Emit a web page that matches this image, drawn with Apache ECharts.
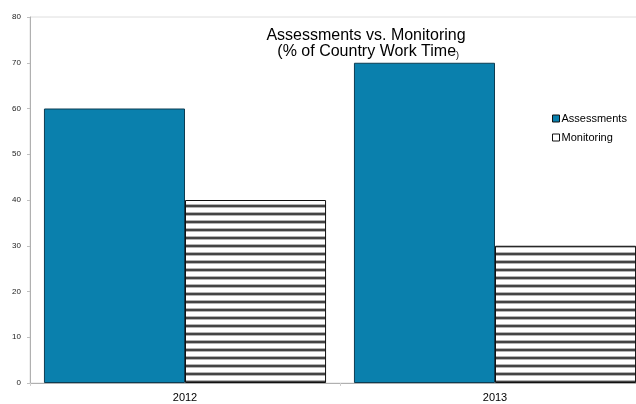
<!DOCTYPE html>
<html>
<head>
<meta charset="utf-8">
<script src="https://cdn.jsdelivr.net/npm/echarts@6/dist/echarts.min.js"></script>
<style>
  html, body { margin: 0; padding: 0; background: #fff; overflow: hidden; }
  /* the plot runs past the right edge in the original, so the canvas is a bit wider than the window */
  #chart { width: 650px; height: 404px; }
</style>
</head>
<body>
<div id="chart"></div>
<script>
// data
const years = ['2012', '2013']
const assessments = [60, 70]
const monitoring = [40, 30]
const yTicks = [0, 10, 20, 30, 40, 50, 60, 70, 80]

// horizontal stripes for the monitoring bars
function stripePattern() {
  const c = document.createElement('canvas')
  c.width = 8
  c.height = 8
  const ctx = c.getContext('2d')
  ctx.fillStyle = '#fff'
  ctx.fillRect(0, 0, 8, 8)
  ctx.fillStyle = '#b4b4b4'
  ctx.fillRect(0, 4, 8, 1)
  ctx.fillRect(0, 7, 8, 1)
  ctx.fillStyle = '#444'
  ctx.fillRect(0, 5, 8, 2)
  return c
}

const chart = echarts.init(document.getElementById('chart'))
const font = 'Liberation Sans, Arial, sans-serif'

const option = {
  animation: false,
  textStyle: { fontFamily: font },
  title: {
    text: 'Assessments vs. Monitoring\n {a|(% of Country Work Time}{b|)}',
    left: 361,
    top: 23,
    textAlign: 'center',
    textStyle: {
      fontFamily: font,
      fontSize: 16,
      fontWeight: 'normal',
      color: '#000',
      lineHeight: 16,
      rich: {
        a: { fontFamily: font, fontSize: 16, color: '#000', lineHeight: 16 },
        b: { fontFamily: font, fontSize: 9, color: '#000', verticalAlign: 'bottom', padding: [6, 0, 0, 0] }
      }
    }
  },
  legend: {
    orient: 'vertical',
    left: 547,
    top: 108,
    itemWidth: 7,
    itemHeight: 7,
    itemGap: 8,
    textStyle: { fontFamily: font, fontSize: 11, color: '#000', padding: [0, 0, 0, -3] },
    data: [
      { name: 'Assessments', icon: 'rect', itemStyle: { color: '#0a80ad', borderColor: '#111', borderWidth: 1 } },
      { name: 'Monitoring', icon: 'rect', itemStyle: { color: '#fff', borderColor: '#111', borderWidth: 1, decal: null } }
    ]
  },
  grid: {
    left: 30,
    right: 0,
    top: 17,
    bottom: 21,
    show: true,
    borderColor: '#dedede',
    borderWidth: 1
  },
  xAxis: {
    type: 'category',
    data: years,
    axisLine: { show: true, lineStyle: { color: '#b0b0b0', width: 1 } },
    axisTick: { show: true, length: 3, lineStyle: { color: '#d0d0d0' } },
    axisLabel: { fontFamily: font, fontSize: 11, color: '#000', margin: 9 }
  },
  yAxis: {
    type: 'value',
    min: yTicks[0],
    max: yTicks[yTicks.length - 1],
    interval: 10,
    splitLine: { show: false },
    axisLine: { show: true, lineStyle: { color: '#b0b0b0', width: 1 } },
    axisTick: { show: true, length: 3, lineStyle: { color: '#c0c0c0' } },
    axisLabel: { fontFamily: font, fontSize: 8, color: '#222', margin: 9 }
  },
  series: [
    {
      name: 'Assessments',
      type: 'bar',
      data: assessments,
      barGap: '0%',
      barCategoryGap: '9%',
      itemStyle: { color: '#0a80ad', borderColor: '#0d3c52', borderWidth: 1 }
    },
    {
      name: 'Monitoring',
      type: 'bar',
      data: monitoring,
      itemStyle: {
        color: { image: stripePattern(), repeat: 'repeat' },
        borderColor: '#111',
        borderWidth: 1
      }
    }
  ]
}

chart.setOption(option)
</script>
</body>
</html>
